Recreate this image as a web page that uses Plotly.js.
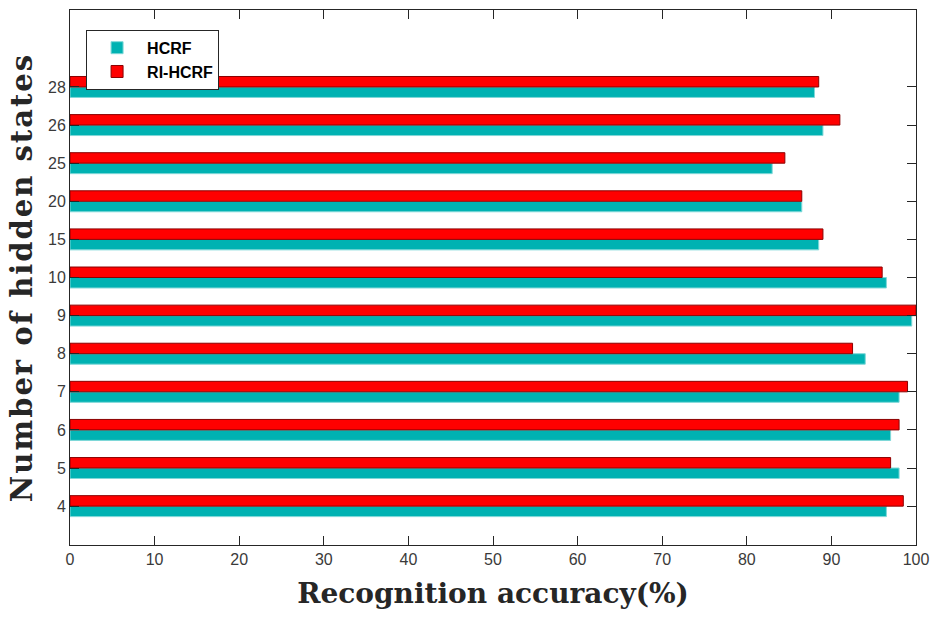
<!DOCTYPE html>
<html><head><meta charset="utf-8">
<script src="https://cdn.plot.ly/plotly-3.0.1.min.js"></script>
<style>html,body{margin:0;padding:0;background:#fff}#chart{width:930px;height:617px}
#chart .ytitle{letter-spacing:2px}</style>
</head><body><div id="chart"></div>
<script>
const categories = ['4','5','6','7','8','9','10','15','20','25','26','28'];
const hcrf   = [96.5, 98.0, 97.0, 98.0, 94.0, 99.5, 96.5, 88.5, 86.5, 83.0, 89.0, 88.0];
const rihcrf = [98.5, 97.0, 98.0, 99.0, 92.5, 100.0, 96.0, 89.0, 86.5, 84.5, 91.0, 88.5];
const xTicks = [0,10,20,30,40,50,60,70,80,90,100];

const traces = [
  {type:'bar', orientation:'h', name:'HCRF', y:categories, x:hcrf,
   marker:{color:'#00B2B2', line:{color:'#7fd8d8', width:1}}},
  {type:'bar', orientation:'h', name:'RI-HCRF', y:categories, x:rihcrf,
   marker:{color:'#FF0000', line:{color:'#8B0000', width:1}}}
];
const axisCol = '#262626';
const tickFont = {family:'Liberation Sans, Arial, sans-serif', size:16, color:'#3a3a3a'};
const layout = {
  width:930, height:617,
  margin:{l:70, r:14, t:10, b:72},
  paper_bgcolor:'#fff', plot_bgcolor:'#fff',
  barmode:'group', bargap:0.45, bargroupgap:0,
  showlegend:true,
  legend:{x:0.019, y:0.963, xanchor:'left', yanchor:'top', traceorder:'normal',
    itemwidth:50, bgcolor:'#fff', bordercolor:axisCol, borderwidth:1,
    font:{family:'Liberation Sans, Arial, sans-serif', size:16, color:'#000', weight:'bold'}},
  xaxis:{range:[0,100], tickvals:xTicks, ticks:'inside', ticklen:9, tickcolor:axisCol,
    showline:true, linecolor:axisCol, linewidth:1, mirror:'ticks', showgrid:false, zeroline:false,
    ticklabeloverflow:'allow', tickfont:tickFont,
    title:{text:'Recognition accuracy(%)', standoff:16,
      font:{family:'DejaVu Serif, Liberation Serif, serif', size:28, color:axisCol, weight:'bold'}}},
  yaxis:{type:'category', range:[-1.02,13.02], ticks:'inside', ticklen:9, tickcolor:axisCol,
    showline:true, linecolor:axisCol, linewidth:1, mirror:'ticks', showgrid:false, zeroline:false,
    tickfont:tickFont,
    title:{text:'Number of hidden states', standoff:6,
      font:{family:'DejaVu Serif, Liberation Serif, serif', size:29, color:axisCol, weight:'bold'}}}
};
Plotly.newPlot('chart', traces, layout, {displayModeBar:false, staticPlot:true});
</script></body></html>
